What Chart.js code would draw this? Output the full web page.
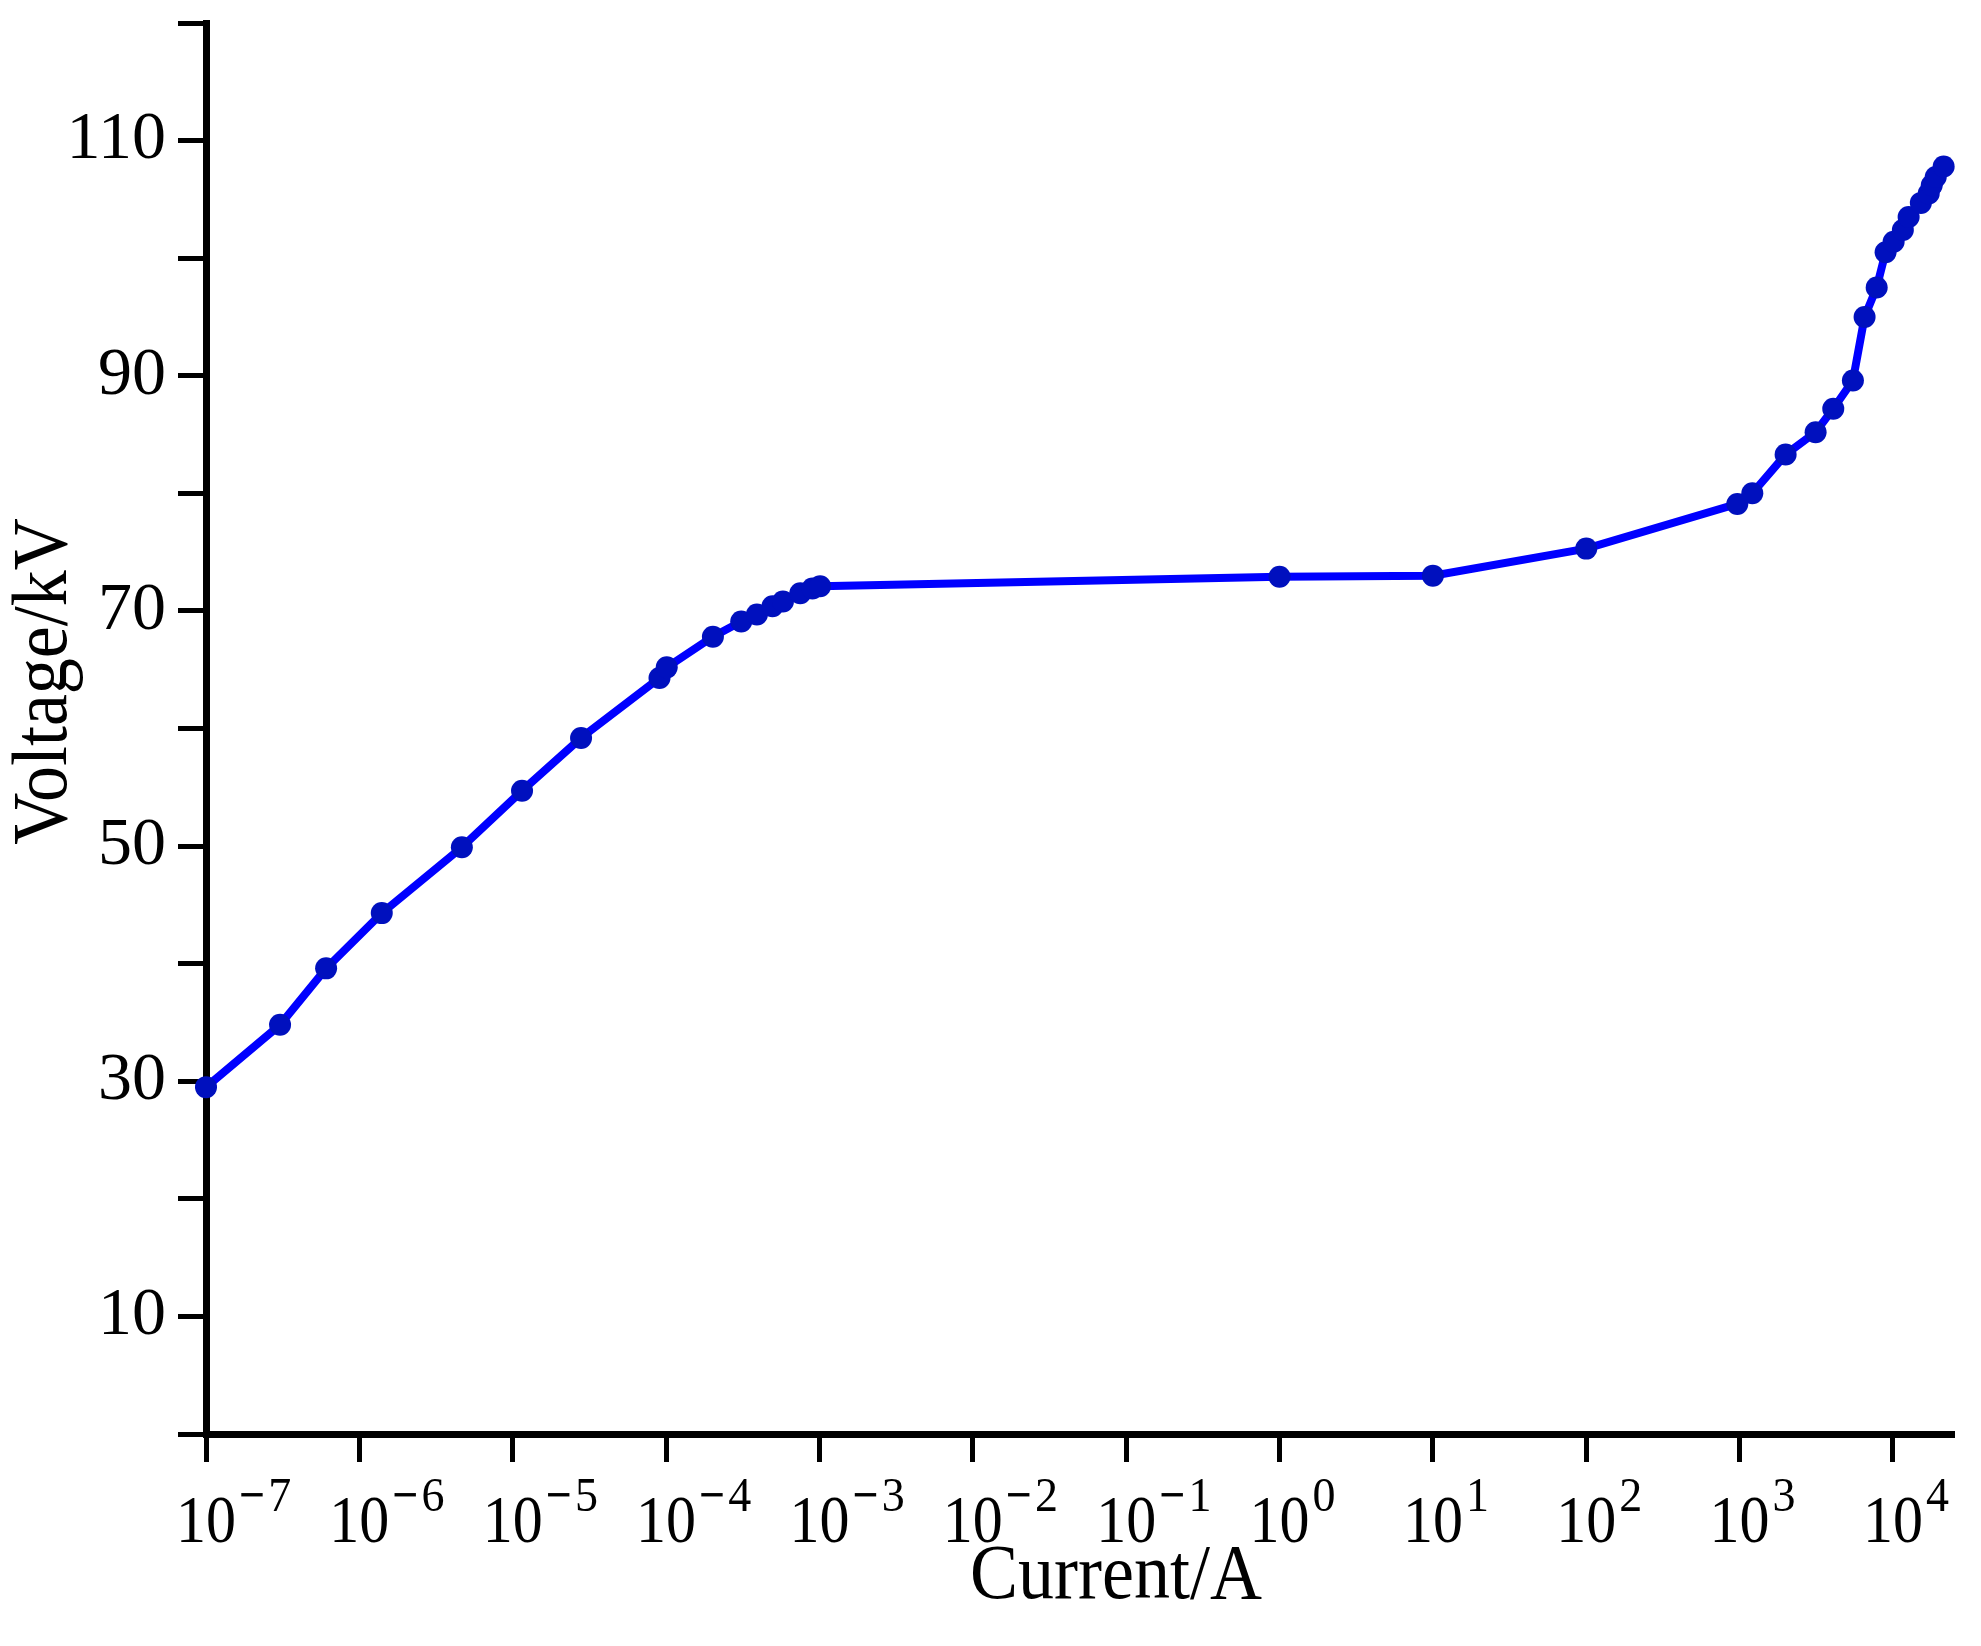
<!DOCTYPE html>
<html>
<head>
<meta charset="utf-8">
<script src="https://cdn.jsdelivr.net/npm/chart.js@4.4.1/dist/chart.umd.min.js"></script>
<style>
  html, body { margin: 0; padding: 0; background: #fff; }
  #wrap { width: 1981px; height: 1646px; }
</style>
</head>
<body>
<div id="wrap"><canvas id="chart" width="1981" height="1646"></canvas></div>
<script>
// current (A) and voltage (kV)
const currentA = [1e-7, 3.04e-7, 6.07e-7, 1.40e-6, 4.66e-6, 1.15e-5, 2.79e-5, 9.06e-5, 1.01e-4,
  2.02e-4, 3.09e-4, 3.91e-4, 4.94e-4, 5.78e-4, 7.5e-4, 9.0e-4, 1.01e-3, 1.0, 10, 100,
  966, 1210, 1995, 3130, 4080, 5480, 6530, 7830, 8950, 10100, 11600, 12650, 15200,
  17100, 17900, 19000, 21400];
const voltageKV = [29.5, 34.8, 39.6, 44.3, 49.9, 54.7, 59.2, 64.3, 65.2,
  67.8, 69.1, 69.7, 70.4, 70.8, 71.5, 71.9, 72.1, 72.9, 73.0, 75.3,
  79.1, 80.0, 83.3, 85.2, 87.2, 89.6, 95.0, 97.5, 100.5, 101.4, 102.4, 103.5, 104.7,
  105.5, 106.2, 106.9, 107.8];

const xExponents = [-7, -6, -5, -4, -3, -2, -1, 0, 1, 2, 3, 4];
const yTicks = [0, 10, 20, 30, 40, 50, 60, 70, 80, 90, 100, 110, 120];
const yLabelled = [10, 30, 50, 70, 90, 110];
const xTitle = 'Current/A';
const yTitle = 'Voltage/kV';

const serif = '"Liberation Serif", "Times New Roman", serif';

let points = [];
for (let i = 0; i < currentA.length; i++) {
  points.push({ x: currentA[i], y: voltageKV[i] });
}

// text drawn a bit taller than wide, like the original export
function tallText(ctx, text, x, y, stretch) {
  ctx.save();
  ctx.translate(x, y);
  ctx.scale(1, stretch);
  ctx.fillText(text, 0, 0);
  ctx.restore();
}

// superscript tick labels and axis titles
const axisText = {
  id: 'axisText',
  afterDraw(chart) {
    const ctx = chart.ctx;
    const xs = chart.scales.x;
    const area = chart.chartArea;
    ctx.save();
    ctx.fillStyle = '#000';
    ctx.textBaseline = 'alphabetic';
    ctx.textAlign = 'left';
    xExponents.forEach(function (e) {
      const px = xs.getPixelForValue(Math.pow(10, e));
      const base = area.bottom + 108;
      ctx.font = '60px ' + serif;
      const w = ctx.measureText('10').width;
      tallText(ctx, '10', px - w / 2, base, 1.14);
      ctx.font = '46px ' + serif;
      let sx = px + w / 2 + 3;
      if (e < 0) {
        ctx.font = 'bold 46px ' + serif;
        tallText(ctx, '\u2212', sx, base - 31, 1.06);
        sx += ctx.measureText('\u2212').width + 3;
        ctx.font = '46px ' + serif;
      }
      tallText(ctx, String(Math.abs(e)), sx, base - 31, 1.06);
    });

    ctx.font = '72px ' + serif;
    ctx.textAlign = 'center';
    tallText(ctx, xTitle, (area.left + area.right) / 2 + 36, area.bottom + 164, 1.08);

    ctx.translate(66, (area.top + area.bottom) / 2 - 47);
    ctx.rotate(-Math.PI / 2);
    tallText(ctx, yTitle, 0, 0, 1.08);
    ctx.restore();
  }
};

const ctx = document.getElementById('chart').getContext('2d');
new Chart(ctx, {
  type: 'scatter',
  data: {
    datasets: [{
      label: 'V-I',
      data: points,
      showLine: true,
      clip: false,
      borderColor: '#0000FF',
      borderWidth: 8,
      tension: 0,
      pointRadius: 11,
      pointHoverRadius: 11,
      pointBackgroundColor: '#0010BE',
      pointBorderWidth: 0
    }]
  },
  options: {
    responsive: false,
    animation: false,
    devicePixelRatio: 1,
    layout: { padding: { top: 23, right: 27, left: 0, bottom: 0 } },
    plugins: {
      legend: { display: false },
      tooltip: { enabled: false }
    },
    scales: {
      x: {
        type: 'logarithmic',
        position: 'bottom',
        min: 1e-7,
        max: 25000,
        afterBuildTicks: function (scale) {
          scale.ticks = xExponents.map(e => ({ value: Math.pow(10, e) }));
        },
        afterFit: function (scale) {
          scale.height = 212;
          scale.paddingLeft = 0;
          scale.paddingRight = 0;
        },
        ticks: { display: false },
        grid: {
          drawOnChartArea: false,
          drawTicks: true,
          tickLength: 28,
          tickWidth: 5,
          tickColor: '#000'
        },
        border: { display: true, width: 7, color: '#000' }
      },
      y: {
        type: 'linear',
        min: 0,
        max: 120,
        afterBuildTicks: function (scale) {
          scale.ticks = yTicks.map(v => ({ value: v }));
        },
        afterFit: function (scale) {
          scale.width = 206;
          scale.paddingTop = 0;
          scale.paddingBottom = 0;
        },
        ticks: {
          padding: 12,
          color: '#000',
          font: { family: serif, size: 68 },
          callback: function (v) { return yLabelled.includes(v) ? String(v) : ''; }
        },
        grid: {
          drawOnChartArea: false,
          drawTicks: true,
          tickLength: 28,
          tickWidth: 5,
          tickColor: '#000'
        },
        border: { display: true, width: 7, color: '#000' }
      }
    }
  },
  plugins: [axisText]
});
</script>
</body>
</html>
